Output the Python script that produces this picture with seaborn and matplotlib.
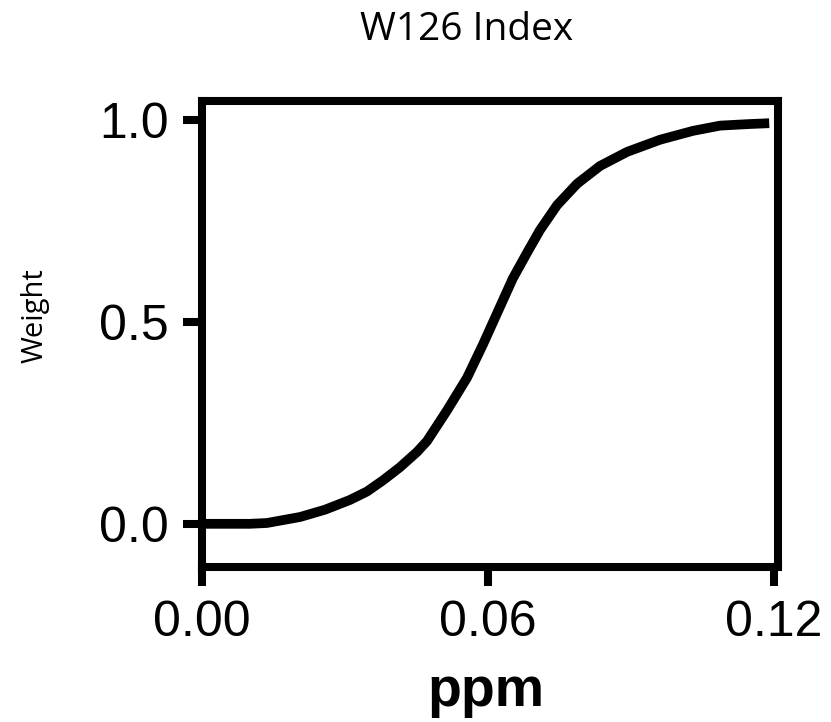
import numpy as np
import pandas as pd
import matplotlib
matplotlib.use("Agg")
import matplotlib.pyplot as plt
import seaborn as sns

# values
ppm = [0.000, 0.010, 0.0136, 0.0206, 0.0258, 0.0310, 0.0346, 0.0380, 0.0415,
       0.0451, 0.0472, 0.0514, 0.0556, 0.0590, 0.0621, 0.0652, 0.0682,
       0.0709, 0.0745, 0.0787, 0.0835, 0.0892, 0.0961, 0.1030, 0.1087,
       0.1150, 0.1190]
weight = [0.000, 0.000, 0.002, 0.017, 0.035, 0.059, 0.080, 0.108, 0.140,
          0.178, 0.205, 0.281, 0.362, 0.446, 0.527, 0.608, 0.672,
          0.728, 0.790, 0.843, 0.887, 0.922, 0.952, 0.974, 0.987,
          0.991, 0.993]
x_ticks = [0.00, 0.06, 0.12]
x_labels = ["0.00", "0.06", "0.12"]
y_ticks = [0.0, 0.5, 1.0]
y_labels = ["0.0", "0.5", "1.0"]

df = pd.DataFrame({"ppm": ppm, "Weight": weight})

sns.set_style("white")
plt.rcParams['font.family'] = ['Liberation Sans', 'DejaVu Sans']

fig = plt.figure(figsize=(8.31, 7.22), dpi=100)
ax = fig.add_axes([0.2431, 0.2147, 0.6931, 0.6454])

sns.lineplot(data=df, x="ppm", y="Weight", color="black", linewidth=7,
             ax=ax, solid_capstyle="butt", solid_joinstyle="round")

ax.set_xlim(0, 0.12084)
ax.set_ylim(-0.107, 1.048)

for sp in ax.spines.values():
    sp.set_visible(True)
    sp.set_linewidth(5.8)
    sp.set_color("black")

ax.set_xticks(x_ticks)
ax.set_xticklabels(x_labels)
ax.set_yticks(y_ticks)
ax.set_yticklabels(y_labels)
ax.tick_params(axis="both", direction="out", length=14, width=5.8,
               color="black", labelsize=36, labelcolor="black",
               bottom=True, left=True, top=False, right=False)
ax.tick_params(axis="x", pad=10)
ax.tick_params(axis="y", pad=10)
ax.set_xlabel("")
ax.set_ylabel("")

fig.text(0.561, 0.9446, "W126 Index", ha="center", va="baseline",
         fontsize=28, family="Open Sans", color="black")
fig.text(0.042, 0.5623, "Weight", ha="center", va="center", rotation=90,
         fontsize=21, family="Open Sans", color="black")
fig.text(0.585, 0.022, "ppm", ha="center", va="baseline",
         fontsize=40, fontweight="bold", color="black")

fig.savefig("out.png", dpi=100)
